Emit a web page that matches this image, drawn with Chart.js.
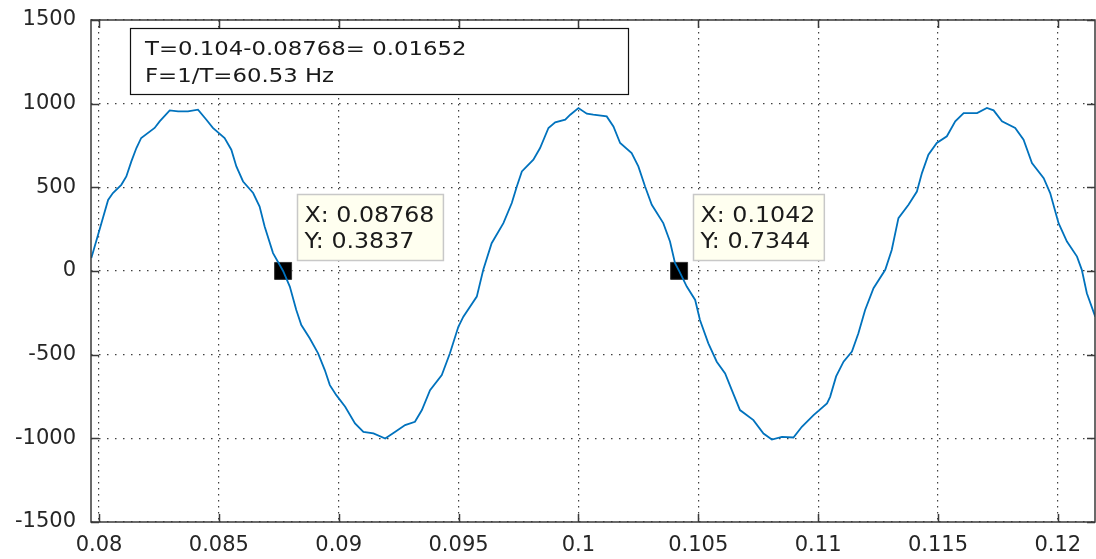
<!DOCTYPE html>
<html>
<head>
<meta charset="utf-8">
<script src="https://cdn.jsdelivr.net/npm/chart.js@4/dist/chart.umd.min.js"></script>
<style>
  html, body { margin: 0; padding: 0; background: #fff; }
  #wrap { width: 1096px; height: 559px; }
</style>
</head>
<body>
<div id="wrap"><canvas id="scope" width="1096" height="559"></canvas></div>
<script>
// waveform samples (time in s, value)
const timeValues = [
  0.07968, 0.08010, 0.08038, 0.08058, 0.08093, 0.08114, 0.08135, 0.08156, 0.08176, 0.08232,
  0.08253, 0.08295, 0.08330, 0.08371, 0.08413, 0.08448, 0.08475, 0.08524, 0.08552, 0.08573,
  0.08601, 0.08643, 0.08670, 0.08691, 0.08726, 0.08768, 0.08796, 0.08823, 0.08844, 0.08879,
  0.08914, 0.08942, 0.08963, 0.08990, 0.09027, 0.09068, 0.09103, 0.09145, 0.09194, 0.09236,
  0.09277, 0.09318, 0.09347, 0.09381, 0.09430, 0.09464, 0.09499, 0.09520, 0.09576, 0.09603,
  0.09638, 0.09687, 0.09722, 0.09743, 0.09764, 0.09812, 0.09840, 0.09875, 0.09903, 0.09945,
  0.09966, 0.10000, 0.10035, 0.10062, 0.10118, 0.10146, 0.10174, 0.10222, 0.10250, 0.10278,
  0.10306, 0.10354, 0.10382, 0.10403, 0.10420, 0.10452, 0.10487, 0.10507, 0.10542, 0.10577,
  0.10612, 0.10640, 0.10674, 0.10730, 0.10772, 0.10807, 0.10849, 0.10897, 0.10932, 0.10981,
  0.11037, 0.11050, 0.11075, 0.11106, 0.11141, 0.11168, 0.11196, 0.11231, 0.11280, 0.11307,
  0.11335, 0.11377, 0.11412, 0.11433, 0.11460, 0.11495, 0.11537, 0.11572, 0.11607, 0.11663,
  0.11704, 0.11732, 0.11767, 0.11822, 0.11857, 0.11892, 0.11941, 0.11968, 0.12003, 0.12038,
  0.12080, 0.12100, 0.12121, 0.12156
];
const signalValues = [
  77, 286, 425, 466, 515, 565, 655, 735, 795, 855,
  894, 960, 954, 954, 964, 904, 855, 795, 725, 625,
  535, 466, 385, 266, 107, 0.38, -93, -233, -323, -402,
  -492, -592, -682, -742, -811, -911, -961, -971, -1001, -961,
  -921, -901, -831, -712, -622, -492, -333, -273, -153, 7,
  166, 286, 406, 505, 595, 665, 735, 855, 888, 904,
  934, 974, 940, 934, 924, 864, 765, 705, 625, 505,
  396, 286, 176, 47, 0.73, -93, -173, -293, -432, -542,
  -612, -712, -831, -891, -971, -1007, -991, -995, -931, -861,
  -791, -752, -630, -542, -482, -372, -233, -103, 7, 126,
  316, 396, 475, 585, 695, 765, 805, 894, 944, 944,
  974, 960, 894, 855, 785, 645, 555, 466, 286, 176,
  86, 7, -133, -273
];

// data cursors
const cursorX = [0.08768, 0.1042];
const cursorY = [0.3837, 0.7344];
const cursorLabels = [["X: 0.08768", "Y: 0.3837"], ["X: 0.1042", "Y: 0.7344"]];

// text box
const noteLines = ["T=0.104-0.08768= 0.01652", "F=1/T=60.53 Hz"];

const xTickStart = 0.08, xTickStep = 0.005;
const yTicks = [-1500, -1000, -500, 0, 500, 1000, 1500];

const ink = '#262626';
const tickFont = { family: 'DejaVu Sans', size: 21 };

function stretchedText(ctx, text, x, y, sx) {
  ctx.save();
  ctx.translate(x, y);
  ctx.scale(sx, 1);
  ctx.fillText(text, 0, 0);
  ctx.restore();
}

// box, inward ticks, text box and data tips
const decorations = {
  id: 'decorations',
  afterDraw(chart) {
    const ctx = chart.ctx;
    const a = chart.chartArea;
    const xs = chart.scales.x, ys = chart.scales.y;

    ctx.save();
    ctx.strokeStyle = '#3a3a3a';
    ctx.lineWidth = 1.5;
    ctx.beginPath();
    xs.ticks.forEach(t => {
      const px = Math.round(xs.getPixelForValue(t.value)) + 0.5;
      ctx.moveTo(px, a.bottom); ctx.lineTo(px, a.bottom - 8);
      ctx.moveTo(px, a.top); ctx.lineTo(px, a.top + 8);
    });
    ys.ticks.forEach(t => {
      const py = Math.round(ys.getPixelForValue(t.value)) + 0.5;
      ctx.moveTo(a.left, py); ctx.lineTo(a.left + 8, py);
      ctx.moveTo(a.right, py); ctx.lineTo(a.right - 8, py);
    });
    ctx.stroke();
    ctx.strokeRect(a.left, a.top, a.right - a.left, a.bottom - a.top);

    // note box
    ctx.fillStyle = '#fff';
    ctx.fillRect(130.5, 28.5, 498, 66);
    ctx.strokeStyle = '#111';
    ctx.lineWidth = 1.2;
    ctx.strokeRect(130.5, 28.5, 498, 66);
    ctx.fillStyle = '#1a1a1a';
    ctx.font = '20px "DejaVu Sans"';
    ctx.textBaseline = 'alphabetic';
    stretchedText(ctx, noteLines[0], 145, 55, 1.14);
    stretchedText(ctx, noteLines[1], 145, 82, 1.14);

    // data tips
    ctx.font = '21px "DejaVu Sans"';
    cursorX.forEach((cx, i) => {
      const mx = xs.getPixelForValue(cx);
      const my = ys.getPixelForValue(cursorY[i]);
      const lines = cursorLabels[i];
      const w = Math.max(...lines.map(s => ctx.measureText(s).width)) * 1.13 + 16;
      const left = Math.round(mx + 14) + 0.5, top = Math.round(my - 77) + 0.5;
      ctx.fillStyle = '#fffff0';
      ctx.fillRect(left, top, w, 66);
      ctx.strokeStyle = '#c8c8c8';
      ctx.lineWidth = 1.5;
      ctx.strokeRect(left, top, w, 66);
      ctx.fillStyle = '#1a1a1a';
      stretchedText(ctx, lines[0], left + 7, top + 27, 1.13);
      stretchedText(ctx, lines[1], left + 7, top + 53, 1.13);
    });
    ctx.restore();
  }
};

const gridDots = () => ({
  display: true,
  color: 'rgba(30,30,30,0.85)',
  lineWidth: 1.2,
  drawTicks: false
});

new Chart(document.getElementById('scope'), {
  type: 'scatter',
  data: {
    datasets: [{
      data: timeValues.map((t, i) => ({ x: t, y: signalValues[i] })),
      showLine: true,
      borderColor: '#0072BD',
      borderWidth: 1.8,
      pointRadius: 0,
      tension: 0
    }, {
      data: cursorX.map((t, i) => ({ x: t, y: cursorY[i] })),
      showLine: false,
      pointStyle: 'rect',
      pointRadius: 12,
      backgroundColor: '#000',
      borderColor: '#333',
      borderWidth: 1
    }]
  },
  options: {
    responsive: false,
    animation: false,
    devicePixelRatio: 1,
    layout: { autoPadding: false, padding: { left: 0, top: 20, right: 1, bottom: 0 } },
    plugins: { legend: { display: false }, tooltip: { enabled: false } },
    scales: {
      x: {
        type: 'linear',
        min: 0.079666,
        max: 0.12155,
        afterFit: s => { s.height = 37; s.paddingLeft = 0; s.paddingRight = 0; },
        afterBuildTicks: s => {
          const t = [];
          for (let k = 0; xTickStart + k * xTickStep <= s.max; k++) {
            t.push({ value: +(xTickStart + k * xTickStep).toFixed(4) });
          }
          s.ticks = t;
        },
        grid: gridDots(),
        border: { display: false, dash: [1.5, 4.5] },
        ticks: {
          padding: 11,
          color: ink,
          font: tickFont,
          maxRotation: 0,
          autoSkip: false,
          callback: v => String(+(+v).toFixed(4))
        }
      },
      y: {
        min: -1500,
        max: 1500,
        afterFit: s => { s.width = 91; s.paddingTop = 0; s.paddingBottom = 0; },
        afterBuildTicks: s => { s.ticks = yTicks.map(v => ({ value: v })); },
        grid: gridDots(),
        border: { display: false, dash: [1.5, 6.5] },
        ticks: {
          padding: 15,
          color: ink,
          font: tickFont,
          autoSkip: false,
          callback: v => String(v)
        }
      }
    }
  },
  plugins: [decorations]
});
</script>
</body>
</html>
